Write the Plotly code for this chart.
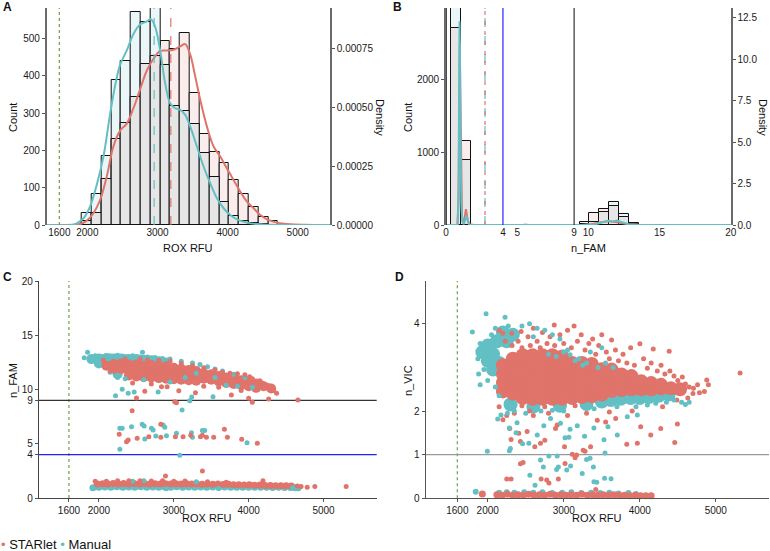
import plotly.graph_objects as go

RED = "#E0736A"
CYAN = "#62BFC4"
FONT = "Liberation Sans, Arial, Helvetica, sans-serif"

# ---------------- Panel A : ROX RFU histogram + density ----------------
A_bin_left = [1920, 2060, 2200, 2340, 2480, 2620, 2760, 2900, 3040, 3180,
              3320, 3460, 3600, 3740, 3880, 4020, 4160, 4300, 4440, 4580]
A_bin_width = 140
A_count_starlet = [10, 31, 123, 230, 273, 342, 432, 452, 493, 472,
                   515, 354, 244, 195, 167, 121, 83, 47, 22, 11]
A_count_manual = [33, 83, 184, 390, 441, 572, 545, 610, 428, 320,
                  306, 271, 193, 128, 62, 25, 12, 5, 2, 0]

A_dens_x_starlet = [1420, 1800, 1895, 1990, 2086, 2181, 2276, 2371, 2467, 2562, 2657, 2752,
                    2848, 2943, 3038, 3133, 3229, 3324, 3395, 3467, 3538, 3610, 3705, 3800,
                    3895, 3990, 4086, 4181, 4276, 4371, 4467, 4562, 4705, 4895, 5100, 5460]
A_dens_starlet = [0, 0.000001, 0.000004, 0.000018, 0.00005, 0.000106, 0.000205, 0.000333,
                  0.0004, 0.00043, 0.000495, 0.000575, 0.000655, 0.000705, 0.000738, 0.00074,
                  0.000743, 0.000757, 0.000767, 0.000722, 0.00063, 0.00053, 0.000417, 0.000333,
                  0.00029, 0.00024, 0.00019, 0.000141, 0.000099, 0.000071, 0.000042, 0.000024,
                  0.00001, 0.000003, 0.000001, 0]
A_dens_x_manual = [1420, 1800, 1848, 1943, 2038, 2133, 2229, 2324, 2395, 2467, 2562, 2657,
                   2752, 2848, 2905, 2967, 3038, 3110, 3181, 3252, 3324, 3395, 3467, 3562,
                   3657, 3752, 3848, 3943, 4038, 4133, 4276, 4467, 4700, 5460]
A_dens_manual = [0, 0.000001, 0.000007, 0.000028, 0.000078, 0.00017, 0.00029, 0.00047,
                 0.00059, 0.00068, 0.00074, 0.00081, 0.00085, 0.000863, 0.000873, 0.00084,
                 0.00074, 0.0006, 0.000516, 0.000495, 0.000488, 0.000467, 0.000417, 0.000333,
                 0.000248, 0.000177, 0.000113, 0.000071, 0.000042, 0.000024, 0.00001,
                 0.000003, 0, 0]
A_rox_cutoff = 1600
A_mean_starlet = 3190
A_mean_manual = 2952

# ---------------- Panel B : n_FAM histogram + density ----------------
B_bin_left = [0.35, 1.045, 5.215, 9.385, 10.08, 10.775, 11.47, 12.165, 12.86]
B_bin_width = 0.695
B_count_starlet = [2700, 1158, 3, 45, 160, 215, 260, 105, 10]
B_count_manual = [3100, 892, 5, 20, 35, 178, 320, 146, 27]

B_dens_x_starlet = [0, 0.8, 0.88, 0.93, 0.97, 1.01, 1.06, 1.12, 1.2, 1.3, 1.36, 1.4, 1.45,
                    1.52, 1.62, 2.0, 5.4, 5.6, 5.8, 9.5, 10.2, 10.8, 11.3, 11.8, 12.3, 12.8,
                    13.5, 20]
B_dens_starlet = [0, 0, 1.5, 6.5, 11.0, 8.0, 3.0, 0.6, 0.15, 0.3, 0.75, 0.95, 0.7, 0.3, 0.05,
                  0, 0, 0.02, 0, 0, 0.05, 0.15, 0.22, 0.2, 0.12, 0.05, 0.01, 0]
B_dens_x_manual = [0, 0.82, 0.88, 0.92, 0.95, 0.98, 1.02, 1.08, 1.15, 1.25, 1.35, 1.42, 1.48,
                   1.55, 1.65, 2.0, 5.4, 5.6, 5.8, 9.5, 10.5, 11.0, 11.4, 11.7, 12.0, 12.3,
                   12.8, 13.5, 20]
B_dens_manual = [0, 0, 2.0, 7.0, 12.3, 10.5, 5.0, 1.2, 0.2, 0.05, 0.3, 0.55, 0.5, 0.2, 0.02,
                 0, 0, 0.03, 0, 0, 0.05, 0.15, 0.25, 0.2, 0.27, 0.18, 0.05, 0.01, 0]
B_zero_line = 0
B_dashed_cut = 2.74
B_blue_cut = 4
B_black_cut = 9

# ---------------- Panel C : n_FAM vs ROX RFU ----------------
C_manual_core = [(1900, 12.8), (2000, 12.85), (2000, 12.4), (2100, 12.9), (2100, 12.45),
                 (2200, 12.85), (2250, 11.4), (2300, 12.85), (2400, 12.8), (2500, 12.8),
                 (2600, 12.75), (2700, 12.7), (2800, 12.6), (2900, 12.5)]
C_starlet_core = [(2100, 12.2), (2200, 12.35), (2200, 11.9), (2300, 12.4), (2300, 11.9),
                  (2400, 12.3), (2400, 11.8), (2400, 11.3), (2500, 12.3), (2500, 11.75),
                  (2500, 11.2), (2600, 12.2), (2600, 11.7), (2600, 11.15), (2700, 12.25),
                  (2700, 11.7), (2700, 11.1), (2800, 12.2), (2800, 11.6), (2800, 11.05),
                  (2900, 12.15), (2900, 11.6), (2900, 11.0), (3000, 12.0), (3000, 11.5),
                  (3000, 10.95), (3100, 11.9), (3100, 11.4), (3100, 10.9), (3200, 11.8),
                  (3200, 11.3), (3200, 10.85), (3300, 11.7), (3300, 11.2), (3300, 10.8),
                  (3400, 11.5), (3400, 11.0), (3500, 11.4), (3500, 10.9), (3600, 11.25),
                  (3600, 10.75), (3700, 11.1), (3700, 10.6), (3800, 11.0), (3800, 10.5),
                  (3900, 10.85), (3900, 10.4), (4000, 10.75), (4000, 10.3), (4100, 10.55),
                  (4100, 10.15), (4200, 10.3), (4300, 10.1)]
C_manual_pts = [(1804, 12.93), (1849, 13.43), (1950, 13.1), (2050, 13.05), (2150, 13.1),
                (2250, 13.15), (2350, 13.05), (2450, 13.1), (2582, 13.43), (2550, 13.0),
                (2650, 13.0), (2750, 12.95), (2850, 12.85), (2950, 12.8), (3100, 12.6),
                (3250, 12.45), (3350, 12.3), (3450, 12.1), (3550, 11.9), (3650, 11.7),
                (3800, 11.4), (3950, 11.1), (2150, 11.6), (2250, 11.1), (2350, 11.0),
                (2600, 10.9), (2950, 10.7), (3150, 11.1), (3300, 11.5), (3550, 11.1),
                (3700, 10.4), (3850, 10.3), (4050, 10.2), (2222, 9.43), (2311, 10.02),
                (2391, 9.65), (2471, 9.77), (2791, 9.77), (3524, 9.34), (3240, 9.3),
                (2280, 6.42), (2311, 6.42), (2280, 4.49), (2436, 6.57), (2578, 6.79),
                (2604, 6.64), (2702, 6.42), (2724, 6.27), (2858, 6.73), (2880, 6.51),
                (3036, 5.96), (3236, 6.02), (3382, 6.21), (3413, 6.21), (3978, 5.10),
                (2760, 5.71), (2902, 5.74), (2613, 5.44), (3249, 5.59), (3111, 8.11),
                (3213, 8.97), (3080, 3.93)]
C_starlet_pts = [(2060, 12.7), (2150, 11.7), (2350, 12.8), (2550, 12.8), (2650, 12.75),
                 (2800, 12.7), (2950, 12.6), (3100, 12.4), (3250, 12.2), (3400, 12.0),
                 (3550, 11.8), (3650, 11.6), (3750, 11.5), (3850, 11.45), (3950, 11.35),
                 (4013, 11.18), (4050, 11.0), (4150, 10.8), (4180, 10.6), (4250, 10.4),
                 (4147, 10.26), (4280, 10.32), (4330, 9.9), (4373, 9.65), (4267, 9.12),
                 (4000, 9.2), (4049, 8.82), (3769, 9.5), (3289, 9.71), (3067, 9.89),
                 (2911, 10.26), (2836, 10.26), (2613, 9.83), (2502, 9.22), (4658, 9.03),
                 (2450, 10.6), (2700, 10.5), (3400, 10.3), (3600, 10.2), (3900, 9.9),
                 (2271, 5.87), (2369, 5.19), (2391, 5.35), (2511, 5.50), (2667, 5.65),
                 (2827, 5.59), (2827, 6.79), (3022, 5.65), (3124, 5.65), (3227, 5.78),
                 (3356, 5.65), (3382, 5.78), (3436, 5.59), (3533, 5.59), (3676, 6.33),
                 (3716, 5.59), (3907, 5.41), (4116, 5.04), (2444, 8.05), (3013, 8.88),
                 (3036, 8.79)]
C_manual_band = [(1920, 0.95), (2000, 1.0), (2080, 1.02), (2160, 1.0), (2240, 1.03),
                 (2320, 1.0), (2400, 1.02), (2480, 1.0), (2560, 1.03), (2640, 1.0),
                 (2720, 1.02), (2800, 1.0), (2880, 1.02), (2960, 1.0), (3040, 1.03),
                 (3120, 1.0), (3200, 1.02), (3280, 1.0), (3360, 1.02), (3440, 1.0),
                 (3520, 1.02), (3600, 1.0), (3680, 1.02), (3760, 1.0), (3840, 1.0),
                 (3920, 0.98), (4000, 1.0), (4080, 0.98), (4160, 1.0), (4240, 0.98),
                 (4320, 0.97), (4400, 0.98), (4480, 0.97), (4560, 0.96), (4620, 0.95),
                 (4660, 0.95)]
C_starlet_band = [(1980, 1.3), (2050, 1.32), (2120, 1.28), (2190, 1.33), (2260, 1.3),
                  (2330, 1.34), (2400, 1.3), (2470, 1.33), (2540, 1.29), (2610, 1.33),
                  (2680, 1.3), (2750, 1.32), (2820, 1.29), (2890, 1.32), (2960, 1.3),
                  (3030, 1.31), (3100, 1.28), (3170, 1.31), (3240, 1.28), (3310, 1.3),
                  (3380, 1.27), (3450, 1.29), (3520, 1.26), (3590, 1.28), (3660, 1.25),
                  (3730, 1.26), (3800, 1.22), (3870, 1.23), (3940, 1.2), (4010, 1.21),
                  (4080, 1.18), (4150, 1.19), (4220, 1.16), (4290, 1.15), (4360, 1.14),
                  (4430, 1.13), (4500, 1.12), (4570, 1.1)]
C_starlet_band_pts = [(1950, 1.55), (2100, 1.55), (2250, 1.6), (2400, 1.6), (2550, 1.58),
                      (2700, 1.57), (2889, 2.03), (2850, 1.6), (3000, 1.55), (3150, 1.56),
                      (3382, 2.49), (3450, 1.5), (3700, 1.45), (4191, 1.6), (4650, 1.1),
                      (4700, 1.05), (4782, 1.0), (4884, 1.05), (5302, 1.05)]
C_manual_band_pts = [(2450, 1.55), (2600, 1.6), (3300, 1.5), (2900, 0.85), (3600, 0.88),
                     (4588, 0.95), (4640, 0.95)]
C_rox_cutoff = 1600
C_black_cut = 9
C_blue_cut = 4

# ---------------- Panel D : n_VIC vs ROX RFU ----------------
D_manual_core = [(1930, 3.35), (2000, 3.15), (2000, 3.5), (2070, 3.3), (2070, 2.95),
                 (2120, 3.6), (2150, 3.1), (2200, 3.8), (2250, 3.6), (2330, 3.75),
                 (2300, 2.15), (2600, 2.1), (2950, 2.12), (3300, 2.16), (3500, 2.22),
                 (3620, 2.25), (3750, 2.28), (3880, 2.3), (4000, 2.3), (4120, 2.32),
                 (4250, 2.35), (4380, 2.38)]
D_starlet_core = [(2200, 2.45), (2200, 2.65), (2200, 2.85), (2200, 3.05),
                  (2330, 2.4), (2330, 2.6), (2330, 2.8), (2330, 3.0), (2330, 3.2),
                  (2460, 2.3), (2460, 2.5), (2460, 2.7), (2460, 2.9), (2460, 3.1), (2460, 3.28),
                  (2590, 2.28), (2590, 2.48), (2590, 2.68), (2590, 2.88), (2590, 3.08), (2590, 3.28),
                  (2720, 2.28), (2720, 2.48), (2720, 2.68), (2720, 2.88), (2720, 3.08), (2720, 3.28),
                  (2850, 2.28), (2850, 2.48), (2850, 2.68), (2850, 2.88), (2850, 3.08), (2850, 3.28),
                  (2980, 2.28), (2980, 2.48), (2980, 2.68), (2980, 2.88), (2980, 3.08), (2980, 3.25),
                  (3110, 2.3), (3110, 2.5), (3110, 2.7), (3110, 2.9), (3110, 3.1),
                  (3240, 2.32), (3240, 2.52), (3240, 2.72), (3240, 2.92), (3240, 3.1),
                  (3370, 2.34), (3370, 2.54), (3370, 2.74), (3370, 2.94), (3370, 3.08),
                  (3500, 2.38), (3500, 2.58), (3500, 2.78), (3500, 2.96),
                  (3630, 2.46), (3630, 2.64), (3630, 2.82), (3630, 2.95),
                  (3760, 2.48), (3760, 2.66), (3760, 2.84),
                  (3890, 2.5), (3890, 2.66), (3890, 2.8),
                  (4020, 2.5), (4020, 2.68), (4150, 2.5), (4150, 2.64),
                  (4280, 2.52), (4280, 2.6), (4410, 2.52), (4530, 2.5)]
D_manual_pts = [(1798, 3.81), (1978, 4.23), (2228, 4.15), (2270, 3.95), (2100, 3.9),
                (2050, 3.75), (1900, 3.55), (1870, 3.2), (1880, 2.85), (1900, 2.6),
                (1950, 2.95), (2000, 2.7), (2100, 2.55), (2150, 2.35), (2250, 2.2),
                (2450, 3.95), (2550, 4.0), (2650, 3.9), (2750, 3.85), (2600, 3.7),
                (2850, 3.75), (2950, 3.65), (3050, 3.4), (3083, 3.29), (3200, 3.2),
                (3250, 3.05), (3350, 3.35), (3500, 3.45), (3550, 3.1), (3650, 3.0),
                (2800, 3.3), (2900, 3.25), (3000, 3.35), (3150, 3.15), (3300, 3.1),
                (3450, 3.0), (2350, 2.0), (2500, 1.95), (2700, 2.0), (2850, 2.02),
                (3000, 2.0), (3400, 2.05), (3700, 2.1), (3950, 2.1), (4100, 2.14),
                (4210, 2.18), (4350, 2.2), (4450, 2.25), (4550, 2.2), (4650, 2.2),
                (4600, 2.15), (2175, 1.91), (2259, 1.95), (2131, 1.82), (2386, 1.73),
                (2285, 1.61), (2373, 1.50), (2298, 1.14), (2285, 1.09), (1995, 1.08),
                (2458, 1.25), (2541, 1.26), (2651, 1.45), (2738, 1.66), (2826, 1.83),
                (2958, 1.72), (3068, 1.40), (3178, 1.66), (3274, 1.42), (3397, 1.61),
                (3529, 1.34), (3581, 1.64), (3704, 1.45), (3836, 1.87), (3968, 1.91),
                (2694, 0.88), (2804, 0.97), (2914, 0.97), (3243, 0.57), (3300, 0.89),
                (3397, 0.38), (3537, 0.46), (2905, 0.66), (3090, 0.74), (2554, 0.53),
                (2622, 0.30), (2732, 0.72), (2929, 0.72), (3039, 0.65), (3346, 0.92),
                (3390, 0.72), (3434, 0.37), (3622, 0.45), (3543, 1.04), (3017, 1.39),
                (3083, 1.58)]
D_starlet_pts = [(2150, 3.85), (2197, 3.78), (2230, 3.6), (2316, 3.78), (2320, 3.5),
                 (2400, 3.6), (2439, 3.82), (2450, 3.45), (2530, 3.7), (2560, 3.5),
                 (2600, 3.9), (2650, 3.6), (2690, 3.45), (2720, 3.8), (2780, 3.55),
                 (2820, 3.7), (2875, 3.97), (2880, 3.5), (2950, 3.75), (3000, 3.55),
                 (3050, 3.85), (3100, 3.45), (3136, 3.95), (3180, 3.6), (3230, 3.75),
                 (3280, 3.4), (3330, 3.55), (3380, 3.65), (3420, 3.3), (3460, 3.5),
                 (3500, 3.75), (3560, 3.35), (3600, 3.2), (3629, 3.63), (3680, 3.4),
                 (3720, 3.15), (3780, 3.3), (3830, 3.1), (3880, 3.45), (3930, 3.05),
                 (4002, 3.54), (4050, 3.2), (4100, 2.98), (4177, 3.42), (4150, 3.1),
                 (4230, 2.92), (4280, 3.05), (4330, 2.85), (4387, 3.37), (4396, 2.92),
                 (4450, 2.8), (4500, 2.7), (4560, 2.78), (4600, 2.62), (4650, 2.55),
                 (4706, 2.52), (4700, 2.4), (4785, 2.42), (4760, 2.6), (4881, 2.71),
                 (4903, 2.6), (4850, 2.45), (5320, 2.87), (4487, 2.25), (4632, 2.3),
                 (2290, 1.60), (2307, 1.35), (2408, 1.49), (2430, 1.30), (2518, 1.53),
                 (2619, 1.18), (2694, 1.26), (2751, 1.33), (2892, 1.60), (2914, 1.68),
                 (3010, 1.18), (3112, 1.01), (3169, 0.99), (3256, 1.10), (3353, 1.18),
                 (3441, 1.79), (3551, 1.75), (3683, 1.83), (3829, 1.24), (3968, 1.26),
                 (4012, 1.64), (4144, 1.45), (4276, 1.60), (4495, 1.70), (4460, 1.28),
                 (2430, 0.79), (2465, 0.82), (2702, 0.44), (2250, 0.44), (2307, 0.44),
                 (2776, 0.42), (2805, 0.35), (2929, 0.44), (3017, 0.8), (3149, 0.93),
                 (3280, 1.08), (3421, 0.2), (2200, 1.8), (2250, 1.9), (2350, 1.95),
                 (2600, 1.9), (2800, 1.95), (3300, 1.95), (3600, 1.98), (3900, 2.0),
                 (4300, 2.1), (2550, 2.0), (3050, 1.9), (2150, 2.1), (2450, 2.12),
                 (2750, 2.1), (3150, 2.12)]
D_manual_band = [(1842, 0.15), (2150, 0.13), (2250, 0.14), (2350, 0.13), (2480, 0.14),
                 (2600, 0.13), (2720, 0.14), (2850, 0.12), (2980, 0.13), (3100, 0.14),
                 (3230, 0.12), (3360, 0.13), (3480, 0.12), (3600, 0.13), (3720, 0.11),
                 (3850, 0.12), (3950, 0.1)]
D_starlet_band = [(1929, 0.1), (2120, 0.08), (2190, 0.07), (2260, 0.09), (2330, 0.07),
                  (2400, 0.08), (2470, 0.07), (2540, 0.09), (2610, 0.07), (2680, 0.08),
                  (2750, 0.07), (2820, 0.09), (2890, 0.07), (2960, 0.08), (3030, 0.07),
                  (3100, 0.08), (3170, 0.07), (3240, 0.09), (3310, 0.07), (3380, 0.08),
                  (3450, 0.07), (3520, 0.08), (3590, 0.07), (3660, 0.08), (3730, 0.07),
                  (3800, 0.07), (3870, 0.06), (3940, 0.07), (4010, 0.06), (4080, 0.06),
                  (4150, 0.06)]
D_rox_cutoff = 1600
D_gray_cut = 1

# ---------------- Figure ----------------
W, H = 770, 551
def fx(p):
    return p / W
def fy(p):
    return 1 - p / H

fig = go.Figure()

def add_hist(lefts, width, c_star, c_man, xa, ya):
    centers = [l + width / 2 for l in lefts]
    mins = [min(a, b) for a, b in zip(c_star, c_man)]
    for vals, col in ((c_star, "#FBEDEC"), (c_man, "#EAF6F7"), (mins, "#E6E6E6")):
        fig.add_trace(go.Bar(x=centers, y=vals, width=width, marker_color=col,
                             marker_line_color="#111", marker_line_width=1,
                             xaxis=xa, yaxis=ya, showlegend=False, hoverinfo="skip"))

def add_line(xs, ys, col, xa, ya, shape="spline"):
    fig.add_trace(go.Scatter(x=xs, y=ys, mode="lines", line=dict(color=col, width=2, shape=shape),
                             xaxis=xa, yaxis=ya, showlegend=False, hoverinfo="skip"))

def add_pts(pts, col, size, xa, ya):
    xs = [p[0] for p in pts]
    ys = [p[1] for p in pts]
    fig.add_trace(go.Scatter(x=xs, y=ys, mode="markers",
                             marker=dict(color=col, size=size, line=dict(width=0)),
                             xaxis=xa, yaxis=ya, showlegend=False, cliponaxis=False,
                             hoverinfo="skip"))

# Panel A
add_hist(A_bin_left, A_bin_width, A_count_starlet, A_count_manual, "x", "y")
add_line(A_dens_x_starlet, A_dens_starlet, RED, "x", "y2")
add_line(A_dens_x_manual, A_dens_manual, CYAN, "x", "y2")

# Panel B
add_hist(B_bin_left, B_bin_width, B_count_starlet, B_count_manual, "x2", "y3")
add_line(B_dens_x_starlet, B_dens_starlet, RED, "x2", "y4", shape="linear")
add_line(B_dens_x_manual, B_dens_manual, CYAN, "x2", "y4", shape="linear")

# Panel C
add_pts(C_manual_core, CYAN, 10, "x3", "y5")
add_pts(C_manual_band, CYAN, 7, "x3", "y5")
add_pts(C_starlet_core, RED, 10, "x3", "y5")
add_pts(C_starlet_band, RED, 7, "x3", "y5")
add_pts(C_manual_pts, CYAN, 5, "x3", "y5")
add_pts(C_manual_band_pts, CYAN, 5, "x3", "y5")
add_pts(C_starlet_pts, RED, 5, "x3", "y5")
add_pts(C_starlet_band_pts, RED, 5, "x3", "y5")

# Panel D
add_pts(D_manual_core, CYAN, 14, "x4", "y6")
add_pts(D_manual_band, CYAN, 6, "x4", "y6")
add_pts(D_starlet_core, RED, 14, "x4", "y6")
add_pts(D_starlet_band, RED, 7, "x4", "y6")
add_pts(D_starlet_pts, RED, 5, "x4", "y6")
add_pts(D_manual_pts, CYAN, 5, "x4", "y6")

# reference lines
shapes = []
def vline(x, xa, ya, col, dash, width=1, layer="above"):
    shapes.append(dict(type="line", xref=xa, yref=ya + " domain", x0=x, x1=x, y0=0, y1=1,
                       line=dict(color=col, dash=dash, width=width), layer=layer))
def hline(y, xa, ya, col, width=1, layer="below"):
    shapes.append(dict(type="line", xref=xa + " domain", yref=ya, x0=0, x1=1, y0=y, y1=y,
                       line=dict(color=col, width=width), layer=layer))

GREEN = "#6E9E4E"
vline(A_rox_cutoff, "x", "y", GREEN, "dot", 1.2)
vline(A_mean_manual, "x", "y", CYAN, "dash", 1.2)
vline(A_mean_starlet, "x", "y", RED, "dash", 1.2)
vline(B_zero_line, "x2", "y3", "#111", "solid", 1.5)
vline(B_dashed_cut, "x2", "y3", CYAN, "dash", 1.2)
vline(B_dashed_cut, "x2", "y3", RED, "4px,6px", 1.2)
vline(B_blue_cut, "x2", "y3", "#2222FF", "solid", 1.2)
vline(B_black_cut, "x2", "y3", "#333", "solid", 1.2)
vline(C_rox_cutoff, "x3", "y5", GREEN, "dot", 1.2, "below")
hline(C_black_cut, "x3", "y5", "#333", 1.3)
hline(C_blue_cut, "x3", "y5", "#2222FF", 1.2)
vline(D_rox_cutoff, "x4", "y6", GREEN, "dot", 1.2, "below")
hline(D_gray_cut, "x4", "y6", "#9A9A9A", 1.2)

tickfont = dict(family=FONT, size=10, color="#1a1a1a")
ax_common = dict(showgrid=False, zeroline=False, tickfont=tickfont, ticks="outside",
                 ticklen=3, tickcolor="#555", automargin=False)
ax_nt = {**ax_common, "ticks": ""}

A_xticks = [1600, 2000, 3000, 4000, 5000]
fig.update_layout(
    template="none",
    width=W, height=H, margin=dict(l=0, r=0, t=0, b=0, pad=0),
    plot_bgcolor="white", paper_bgcolor="white",
    barmode="overlay", bargap=0, showlegend=False,
    font=dict(family=FONT, color="#1a1a1a"),
    xaxis=dict(domain=[fx(46.7), fx(330)], anchor="y", range=[1420, 5460],
               tickvals=A_xticks, showline=False, **ax_nt),
    yaxis=dict(domain=[fy(225), fy(8)], anchor="x", range=[0, 582],
               tickvals=[0, 100, 200, 300, 400, 500], showline=True, linecolor="#6a6a6a",
               linewidth=1.6, **ax_common),
    yaxis2=dict(overlaying="y", side="right", anchor="x", range=[0, 0.00092],
                tickvals=[0, 0.00025, 0.0005, 0.00075],
                ticktext=["0.00000", "0.00025", "0.00050", "0.00075"],
                showline=True, linecolor="#6a6a6a", linewidth=1.6, **ax_common),
    xaxis2=dict(domain=[fx(446), fx(730.7)], anchor="y3", range=[0, 20],
                tickvals=[0, 4, 5, 9, 10, 15, 20], showline=False, **ax_nt),
    yaxis3=dict(domain=[fy(225), fy(8)], anchor="x2", range=[0, 2975],
                tickvals=[0, 1000, 2000], showline=True, linecolor="#6a6a6a",
                linewidth=1.6, **ax_common),
    yaxis4=dict(overlaying="y3", side="right", anchor="x2", range=[0, 13.1],
                tickvals=[0, 2.5, 5, 7.5, 10, 12.5],
                ticktext=["0.0", "2.5", "5.0", "7.5", "10.0", "12.5"],
                showline=True, linecolor="#6a6a6a", linewidth=1.6, **ax_common),
    xaxis3=dict(domain=[fx(39), fx(376.7)], anchor="y5", range=[1200, 5710],
                tickvals=A_xticks, showline=True, linecolor="#444", linewidth=1.3,
                **ax_common),
    yaxis5=dict(domain=[fy(498), fy(281)], anchor="x3", range=[0, 20],
                tickvals=[0, 4, 5, 9, 10, 15, 20], showline=True, linecolor="#444",
                linewidth=1.3, **ax_common),
    xaxis4=dict(domain=[fx(425.7), fx(769)], anchor="y6", range=[1184, 5700],
                tickvals=A_xticks, showline=True, linecolor="#555", linewidth=1.3,
                **ax_common),
    yaxis6=dict(domain=[fy(498.3), fy(281)], anchor="x4", range=[0, 4.98],
                tickvals=[0, 1, 2, 4], showline=True, linecolor="#555", linewidth=1.3,
                **ax_common),
    shapes=shapes,
)

ann = []
def text(x, y, s, size=11, angle=0, bold=False, xanchor="center", yanchor="middle"):
    ann.append(dict(x=fx(x), y=fy(y), xref="paper", yref="paper", text=("<b>%s</b>" % s) if bold else s,
                    showarrow=False, textangle=angle, xanchor=xanchor, yanchor=yanchor,
                    font=dict(family=FONT, size=size, color="#111")))

text(13, 117, "Count", angle=-90)
text(188, 248, "ROX RFU")
text(380, 117, "Density", angle=90)
text(408, 117, "Count", angle=-90)
text(588, 248, "n_FAM")
text(763, 117, "Density", angle=90)
text(13, 380, "n_FAM", angle=-90)
text(207, 518, "ROX RFU")
text(408, 380, "n_VIC", angle=-90)
text(597, 518, "ROX RFU")
text(1, 7, "A", size=12, bold=True, xanchor="left")
text(391, 7, "B", size=12, bold=True, xanchor="left")
text(1, 277, "C", size=12, bold=True, xanchor="left")
text(393, 277, "D", size=12, bold=True, xanchor="left")
ann.append(dict(x=0, y=fy(544), xref="paper", yref="paper", xanchor="left", yanchor="middle",
                showarrow=False, borderpad=0,
                text="<span style='color:%s'>•</span> STARlet <span style='color:%s'>•</span> Manual" % (RED, CYAN),
                font=dict(family=FONT, size=13, color="#111")))
fig.update_layout(annotations=ann)

fig.write_html("out.html", config={"displayModeBar": False},
               post_script="document.body.style.margin='0px';document.body.style.overflow='hidden';")
